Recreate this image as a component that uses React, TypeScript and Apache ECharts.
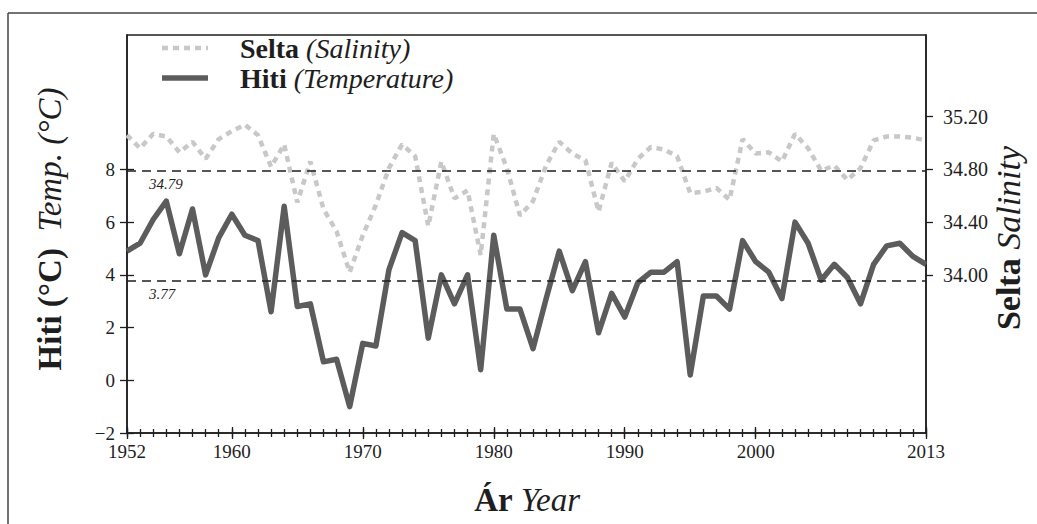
import React, { useEffect, useRef } from "react";
import * as echarts from "echarts";

const years = [
  1952, 1953, 1954, 1955, 1956, 1957, 1958, 1959, 1960, 1961, 1962, 1963, 1964, 1965, 1966, 1967,
  1968, 1969, 1970, 1971, 1972, 1973, 1974, 1975, 1976, 1977, 1978, 1979, 1980, 1981, 1982, 1983,
  1984, 1985, 1986, 1987, 1988, 1989, 1990, 1991, 1992, 1993, 1994, 1995, 1996, 1997, 1998, 1999,
  2000, 2001, 2002, 2003, 2004, 2005, 2006, 2007, 2008, 2009, 2010, 2011, 2012, 2013,
];

const temperature = [
  4.9, 5.2, 6.1, 6.8, 4.8, 6.5, 4.0, 5.4, 6.3, 5.5, 5.3, 2.6, 6.6, 2.8, 2.9, 0.7,
  0.8, -1.0, 1.4, 1.3, 4.2, 5.6, 5.3, 1.6, 4.0, 2.9, 4.0, 0.4, 5.5, 2.7, 2.7, 1.2,
  3.1, 4.9, 3.4, 4.5, 1.8, 3.3, 2.4, 3.7, 4.1, 4.1, 4.5, 0.2, 3.2, 3.2, 2.7, 5.3,
  4.5, 4.1, 3.1, 6.0, 5.2, 3.8, 4.4, 3.9, 2.9, 4.4, 5.1, 5.2, 4.7, 4.4,
];

const salinity = [
  35.06, 34.96, 35.07, 35.05, 34.93, 35.01, 34.88, 35.03, 35.09, 35.14, 35.06, 34.82, 34.99, 34.55, 34.86, 34.5,
  34.33, 34.02, 34.3, 34.53, 34.81, 34.99, 34.9, 34.37, 34.86, 34.58, 34.64, 34.15, 35.07, 34.81, 34.45, 34.56,
  34.83, 35.01, 34.92, 34.87, 34.48, 34.85, 34.71, 34.88, 34.97, 34.95, 34.9, 34.62, 34.63, 34.66, 34.57, 35.03,
  34.92, 34.93, 34.86, 35.07, 34.96, 34.79, 34.83, 34.72, 34.81, 35.02, 35.05, 35.05, 35.04, 35.02,
];

const xLabelYears = [1952, 1960, 1970, 1980, 1990, 2000, 2013];
const tempTicks = [-2, 0, 2, 4, 6, 8];
const salTicks = [34.0, 34.4, 34.8, 35.2];
const tempMean = 3.77;
const salMean = 34.79;

const FONT = "'Liberation Serif', 'Times New Roman', serif";
const INK = "#1e1e1e";

export default function App() {
  const ref = useRef<HTMLDivElement>(null);

  useEffect(() => {
    document.body.style.margin = "0";
    if (!ref.current) return;
    const chart = echarts.init(ref.current, null, { renderer: "svg" });

    const tempData = years.map((y, i) => [y, temperature[i]]);
    const salData = years.map((y, i) => [y, salinity[i]]);

    const xBase = {
      type: "value" as const,
      min: 1952,
      max: 2013,
      position: "bottom" as const,
      splitLine: { show: false },
    };

    const richB = (size: number) => ({ fontFamily: FONT, fontWeight: "bold", fontSize: size, fill: INK });
    const richI = (size: number) => ({ fontFamily: FONT, fontStyle: "italic", fontSize: size, fill: INK });

    const option: any = {
      animation: false,
      backgroundColor: "#ffffff",
      textStyle: { fontFamily: FONT, color: INK },
      grid: {
        left: 127,
        right: 111,
        top: 35,
        bottom: 91,
        show: true,
        borderColor: INK,
        borderWidth: 1.5,
        backgroundColor: "transparent",
      },
      xAxis: [
        {
          ...xBase,
          axisLine: { show: true, onZero: false, lineStyle: { color: INK, width: 1.5 } },
          axisTick: { show: true, customValues: xLabelYears, length: 6, lineStyle: { color: INK, width: 1.3 } },
          axisLabel: {
            show: true,
            customValues: xLabelYears,
            formatter: (v: number) => String(v),
            fontFamily: FONT,
            fontSize: 19,
            color: INK,
            margin: 9,
          },
        },
        {
          ...xBase,
          interval: 1,
          axisLine: { show: false, onZero: false },
          axisTick: { show: true, length: 4, lineStyle: { color: INK, width: 1.3 } },
          axisLabel: { show: false },
        },
        {
          ...xBase,
          axisLine: { show: false, onZero: false },
          axisTick: { show: true, inside: true, customValues: xLabelYears, length: 6, lineStyle: { color: INK, width: 1.3 } },
          axisLabel: { show: false },
        },
        {
          ...xBase,
          interval: 1,
          axisLine: { show: false, onZero: false },
          axisTick: { show: true, inside: true, length: 4, lineStyle: { color: INK, width: 1.3 } },
          axisLabel: { show: false },
        },
      ],
      yAxis: [
        {
          type: "value",
          min: -2,
          max: 13.1,
          position: "left",
          splitLine: { show: false },
          axisLine: { show: true, onZero: false, lineStyle: { color: INK, width: 1.5 } },
          axisTick: { show: true, customValues: tempTicks, length: 7, lineStyle: { color: INK, width: 1.3 } },
          axisLabel: {
            show: true,
            customValues: tempTicks,
            formatter: (v: number) => (v < 0 ? "\u2212" + Math.abs(v) : String(v)),
            fontFamily: FONT,
            fontSize: 19,
            color: INK,
            margin: 12,
          },
        },
        {
          type: "value",
          min: 32.8,
          max: 35.82,
          position: "right",
          splitLine: { show: false },
          axisLine: { show: true, onZero: false, lineStyle: { color: INK, width: 1.5 } },
          axisTick: { show: true, customValues: salTicks, length: 7, lineStyle: { color: INK, width: 1.3 } },
          axisLabel: {
            show: true,
            customValues: salTicks,
            formatter: (v: number) => v.toFixed(2),
            fontFamily: FONT,
            fontSize: 20,
            color: INK,
            margin: 17,
          },
        },
        {
          type: "value",
          min: -2,
          max: 13.1,
          position: "left",
          splitLine: { show: false },
          axisLine: { show: false, onZero: false },
          axisTick: { show: true, inside: true, customValues: tempTicks, length: 7, lineStyle: { color: INK, width: 1.3 } },
          axisLabel: { show: false },
        },
      ],
      series: [
        {
          name: "Selta",
          type: "line",
          xAxisIndex: 0,
          yAxisIndex: 1,
          data: salData,
          showSymbol: false,
          symbol: "none",
          lineStyle: { color: "#c8c8c8", width: 4.5, type: [6, 5] },
          z: 2,
          markLine: {
            silent: true,
            symbol: "none",
            lineStyle: { color: INK, width: 1.6, type: [9, 6] },
            label: {
              show: true,
              position: "insideStartBottom",
              formatter: salMean.toFixed(2),
              fontFamily: FONT,
              fontStyle: "italic",
              fontSize: 15,
              color: INK,
              distance: [22, 6],
            },
            data: [{ yAxis: salMean }],
          },
        },
        {
          name: "Hiti",
          type: "line",
          xAxisIndex: 0,
          yAxisIndex: 0,
          data: tempData,
          showSymbol: false,
          symbol: "none",
          lineStyle: { color: "#5c5c5c", width: 5.5, join: "round" },
          z: 3,
          markLine: {
            silent: true,
            symbol: "none",
            lineStyle: { color: INK, width: 1.6, type: [9, 6] },
            label: {
              show: true,
              position: "insideStartBottom",
              formatter: tempMean.toFixed(2),
              fontFamily: FONT,
              fontStyle: "italic",
              fontSize: 15,
              color: INK,
              distance: [22, 6],
            },
            data: [{ yAxis: tempMean }],
          },
        },
      ],
      graphic: [
        // outer figure frame (top and left edges)
        { type: "line", shape: { x1: 8, y1: 13, x2: 1037, y2: 13 }, style: { stroke: "#444", lineWidth: 1.5 } },
        { type: "line", shape: { x1: 8, y1: 13, x2: 8, y2: 524 }, style: { stroke: "#444", lineWidth: 1.5 } },
        // legend
        {
          type: "line",
          shape: { x1: 162, y1: 48, x2: 208, y2: 48 },
          style: { stroke: "#c8c8c8", lineWidth: 4.5, lineDash: [6, 5] },
        },
        {
          type: "text",
          x: 240,
          y: 48,
          style: {
            text: "{b|Selta }{i|(Salinity)}",
            verticalAlign: "middle",
            align: "left",
            fill: INK,
            rich: { b: richB(28), i: richI(28) },
          },
        },
        {
          type: "line",
          shape: { x1: 162, y1: 78, x2: 208, y2: 78 },
          style: { stroke: "#5c5c5c", lineWidth: 5.5 },
        },
        {
          type: "text",
          x: 240,
          y: 78,
          style: {
            text: "{b|Hiti }{i|(Temperature)}",
            verticalAlign: "middle",
            align: "left",
            fill: INK,
            rich: { b: richB(28), i: richI(28) },
          },
        },
        // left axis title
        {
          type: "text",
          x: 50,
          y: 229,
          rotation: Math.PI / 2,
          style: {
            text: "{b|Hiti (°C)  }{i|Temp. (°C)}",
            align: "center",
            verticalAlign: "middle",
            fill: INK,
            rich: { b: richB(33), i: richI(33) },
          },
        },
        // right axis title
        {
          type: "text",
          x: 1008,
          y: 238,
          rotation: Math.PI / 2,
          style: {
            text: "{b|Selta }{i|Salinity}",
            align: "center",
            verticalAlign: "middle",
            fill: INK,
            rich: { b: richB(34), i: richI(34) },
          },
        },
        // x axis title
        {
          type: "text",
          x: 527,
          y: 500,
          style: {
            text: "{b|Ár }{i|Year}",
            align: "center",
            verticalAlign: "middle",
            fill: INK,
            rich: { b: richB(33), i: richI(33) },
          },
        },
      ],
    };

    chart.setOption(option);
    return () => {
      chart.dispose();
    };
  }, []);

  return <div ref={ref} style={{ width: 1037, height: 524 }} />;
}
